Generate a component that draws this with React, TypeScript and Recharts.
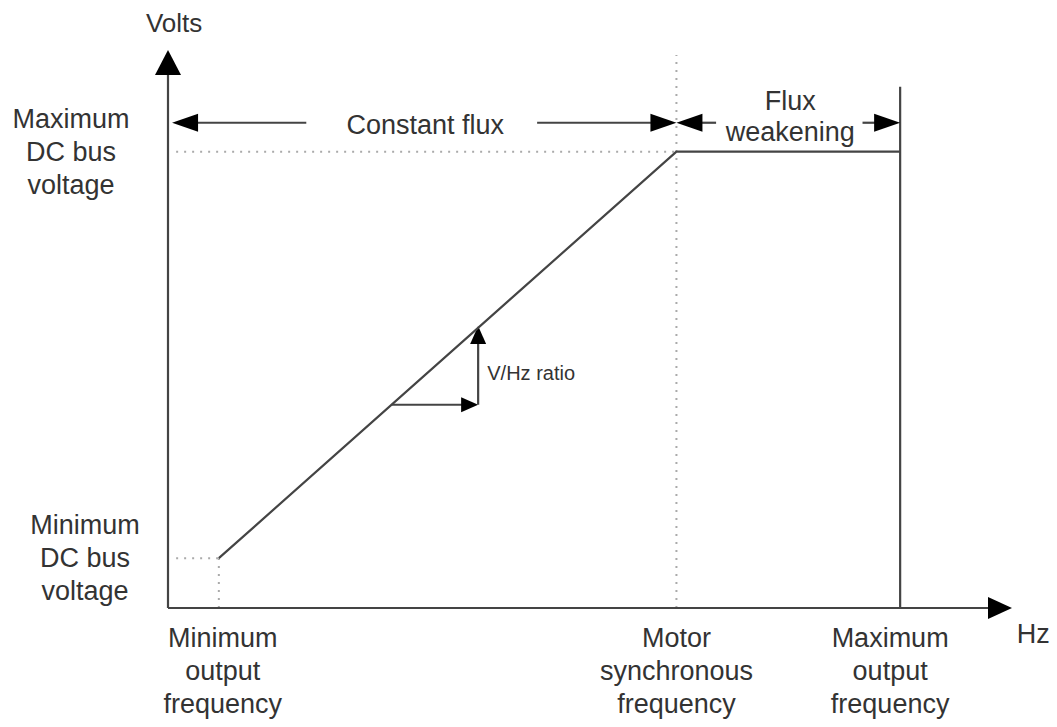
import React from 'react';
import { ComposedChart, Line, XAxis, YAxis, ReferenceLine, ReferenceDot } from 'recharts';

// ---- data (abstract units: Hz on x, volts on y) ----
const curve = [
  { f: 5, v: 50 },
  { f: 50, v: 458 },
  { f: 72, v: 458 },
];
const xTicks = [5, 50, 72];
const xTickLabels = [
  ['Minimum', 'output', 'frequency'],
  ['Motor', 'synchronous', 'frequency'],
  ['Maximum', 'output', 'frequency'],
];
const yTicks = [50, 458];
const yTickLabels = [
  ['Minimum', 'DC bus', 'voltage'],
  ['Maximum', 'DC bus', 'voltage'],
];
const X_MAX = 83;
const Y_MAX = 560;
const maxOutTop = 523;
const fluxArrowV = 487;
const triangle = { f0: 22, f1: 30.5, v0: 204, v1: 283 };

// annotation texts anchored in data coordinates
const annotations = [
  { id: 'volts', f: 0.6, v: 587, lines: ['Volts'], size: 26, anchor: 'middle' },
  { id: 'hz', f: 85.1, v: -25, lines: ['Hz'], size: 27, anchor: 'middle' },
  { id: 'cf', f: 25.3, v: 485, lines: ['Constant flux'], size: 27, anchor: 'middle' },
  { id: 'fw', f: 61.2, v: 510, lines: ['Flux', 'weakening'], size: 27, anchor: 'middle' },
  { id: 'vhz', f: 31.4, v: 236, lines: ['V/Hz ratio'], size: 20, anchor: 'start' },
];

const FONT = '"Liberation Sans", Arial, Helvetica, sans-serif';
const TXT = '#333';
const LINE = '#444';
const DOT = '#aaa';
const LH = 33;
const FS = 27;

const arrowShape = (len: number, wid: number) => (p: any) => {
  const { x1, y1, x2, y2 } = p;
  const dx = x2 - x1;
  const dy = y2 - y1;
  const L = Math.hypot(dx, dy) || 1;
  const ux = dx / L;
  const uy = dy / L;
  const px = -uy;
  const py = ux;
  const bx = x2 - ux * len;
  const by = y2 - uy * len;
  const pts = `${x2},${y2} ${bx + (px * wid) / 2},${by + (py * wid) / 2} ${bx - (px * wid) / 2},${by - (py * wid) / 2}`;
  return (
    <g>
      <line x1={x1} y1={y1} x2={bx + ux * 2} y2={by + uy * 2} stroke={LINE} strokeWidth={2.2} />
      <polygon points={pts} fill="#000" />
    </g>
  );
};

const textShape = (a: any) => (p: any) => {
  const { cx, cy } = p;
  return (
    <text
      x={cx}
      y={cy + a.size * 0.36}
      textAnchor={a.anchor}
      fontFamily={FONT}
      fontSize={a.size}
      fill={TXT}
    >
      {a.lines.map((l: string, i: number) => (
        <tspan key={i} x={cx} dy={i === 0 ? 0 : LH - 2}>
          {l}
        </tspan>
      ))}
    </text>
  );
};

const xTickShift = [4, 0, -10];
const XTick = (props: any) => {
  const { x, y, payload } = props;
  const idx = xTicks.indexOf(payload.value);
  if (idx < 0) return null;
  const cx = x + xTickShift[idx];
  return (
    <text x={cx} y={y + 39} textAnchor="middle" fontFamily={FONT} fontSize={FS} fill={TXT}>
      {xTickLabels[idx].map((l, i) => (
        <tspan key={i} x={cx} dy={i === 0 ? 0 : LH}>
          {l}
        </tspan>
      ))}
    </text>
  );
};

const yTickCenter = [-83, -97];
const YTick = (props: any) => {
  const { x, y, payload } = props;
  const idx = yTicks.indexOf(payload.value);
  if (idx < 0) return null;
  const cx = x + yTickCenter[idx];
  return (
    <text x={cx} y={y - LH + 9} textAnchor="middle" fontFamily={FONT} fontSize={FS} fill={TXT}>
      {yTickLabels[idx].map((l, i) => (
        <tspan key={i} x={cx} dy={i === 0 ? 0 : LH}>
          {l}
        </tspan>
      ))}
    </text>
  );
};

export default function App() {
  const dotted = { stroke: DOT, strokeWidth: 2, strokeDasharray: '2 6' };
  return (
    <div style={{ position: 'absolute', left: 0, top: 0, background: '#fff' }}>
      <ComposedChart
        width={1057}
        height={727}
        data={curve}
        margin={{ top: 50, right: 45, bottom: 0, left: 0 }}
      >
        <XAxis
          type="number"
          dataKey="f"
          domain={[0, X_MAX]}
          ticks={xTicks}
          interval={0}
          axisLine={false}
          tickLine={false}
          tickSize={0}
          tickMargin={0}
          height={119}
          tick={(p: any) => <XTick {...p} />}
          allowDataOverflow
        />
        <YAxis
          type="number"
          domain={[0, Y_MAX]}
          ticks={yTicks}
          interval={0}
          axisLine={false}
          tickLine={false}
          tickSize={0}
          tickMargin={0}
          width={168}
          tick={(p: any) => <YTick {...p} />}
          allowDataOverflow
        />

        {/* dotted guide lines */}
        <ReferenceLine segment={[{ x: 0.8, y: curve[1].v }, { x: curve[1].f, y: curve[1].v }]} {...dotted} />
        <ReferenceLine segment={[{ x: curve[1].f, y: 0 }, { x: curve[1].f, y: 555 }]} {...dotted} />
        <ReferenceLine segment={[{ x: 0.8, y: curve[0].v }, { x: curve[0].f, y: curve[0].v }]} {...dotted} />
        <ReferenceLine segment={[{ x: curve[0].f, y: 0 }, { x: curve[0].f, y: curve[0].v }]} {...dotted} />

        {/* maximum output frequency boundary */}
        <ReferenceLine segment={[{ x: curve[2].f, y: 0 }, { x: curve[2].f, y: maxOutTop }]} stroke={LINE} strokeWidth={2.2} />

        {/* axes with arrows */}
        <ReferenceLine segment={[{ x: 0, y: 0 }, { x: 0, y: Y_MAX }]} shape={arrowShape(25, 26)} />
        <ReferenceLine segment={[{ x: 0, y: 0 }, { x: X_MAX, y: 0 }]} shape={arrowShape(24, 22)} />

        {/* region arrows */}
        <ReferenceLine segment={[{ x: 13.6, y: fluxArrowV }, { x: 0.4, y: fluxArrowV }]} shape={arrowShape(26, 18)} />
        <ReferenceLine segment={[{ x: 36.3, y: fluxArrowV }, { x: 50, y: fluxArrowV }]} shape={arrowShape(26, 18)} />
        <ReferenceLine segment={[{ x: 53.9, y: fluxArrowV }, { x: 50, y: fluxArrowV }]} shape={arrowShape(26, 18)} />
        <ReferenceLine segment={[{ x: 68.3, y: fluxArrowV }, { x: 72, y: fluxArrowV }]} shape={arrowShape(26, 18)} />

        {/* V/Hz triangle */}
        <ReferenceLine
          segment={[{ x: triangle.f0, y: triangle.v0 }, { x: triangle.f1, y: triangle.v0 }]}
          shape={arrowShape(17, 15)}
        />
        <ReferenceLine
          segment={[{ x: triangle.f1, y: triangle.v0 }, { x: triangle.f1, y: triangle.v1 }]}
          shape={arrowShape(18, 16)}
        />

        <Line
          type="linear"
          dataKey="v"
          stroke={LINE}
          strokeWidth={2.2}
          dot={false}
          activeDot={false}
          isAnimationActive={false}
        />

        {annotations.map((a) => (
          <ReferenceDot key={a.id} x={a.f} y={a.v} r={0} ifOverflow="visible" shape={textShape(a)} />
        ))}
      </ComposedChart>
    </div>
  );
}
